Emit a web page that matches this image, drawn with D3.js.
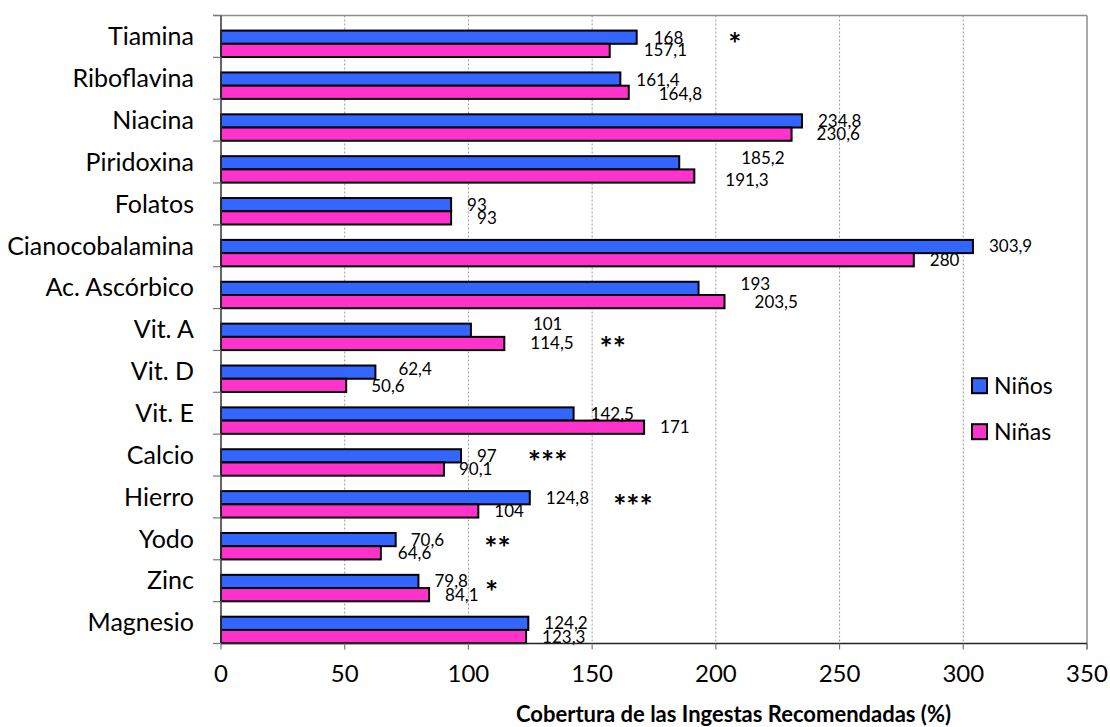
<!DOCTYPE html>
<html><head><meta charset="utf-8">
<script src="https://cdn.jsdelivr.net/npm/d3@7"></script>
<style>body{margin:0;background:#fff}text{font-family:Lato,"Open Sans",sans-serif}</style>
</head><body><svg id="c" width="1110" height="727"></svg>
<script>
// ---- data ----
const categories = ["Tiamina","Riboflavina","Niacina","Piridoxina","Folatos","Cianocobalamina","Ac. Ascórbico","Vit. A","Vit. D","Vit. E","Calcio","Hierro","Yodo","Zinc","Magnesio"];
const ninos = [168,161.4,234.8,185.2,93,303.9,193,101,62.4,142.5,97,124.8,70.6,79.8,124.2];
const ninas = [157.1,164.8,230.6,191.3,93,280,203.5,114.5,50.6,171,90.1,104,64.6,84.1,123.3];
const significance = ["*","","","","","","","**","","","***","***","**","*",""];
const xTicks = [0,50,100,150,200,250,300,350];
const seriesNames = ["Niños","Niñas"];
const axisTitle = "Cobertura de las Ingestas Recomendadas (%)";

// ---- layout (label nudges, px; star anchor in axis units) ----
const labelDxNinos = [17,16,16,62,16,16,42,62,23,17,16,16,15,16,16];
const labelDyNinos = [1,1,0,-5,0,0,-4,-6,-3,0,0,0,0,0,0];
const labelDxNinas = [34,30,25,31,26,16,30,26,25,16,15,16,17,16,16];
const labelDyNinas = [0,2,0,4,0,0,0,0,1,0,0,0,0,0,0];
const sigAt = [205,0,0,0,0,0,0,153,0,0,124,158.5,106.4,106.7,0];
const sigDy = [-6,0,0,0,0,0,0,5,0,0,-7,-5,-5,-2,0];

const colors = ["#3366FF","#FF33CC"];
const pL = 221, pR = 1087, pT = 15.5, pB = 643.5;

const svg = d3.select("#c");
const x = d3.scaleLinear().domain([0,350]).range([pL,pR]);
const y = d3.scaleBand().domain(categories).range([pT,pB]).padding(0);
const bw = y.bandwidth();
const barOff = bw*0.36, barH = bw*0.316;

// gridlines
svg.append("g").selectAll("line").data(xTicks.filter(t=>t>0&&t<350)).join("line")
  .attr("x1",d=>x(d)).attr("x2",d=>x(d)).attr("y1",pT).attr("y2",pB)
  .attr("stroke","#9a9a9a").attr("stroke-width",1).attr("stroke-dasharray","2,2");

// top and right frame
svg.append("line").attr("x1",pL-8).attr("x2",pR).attr("y1",pT).attr("y2",pT).attr("stroke","#8c8c8c").attr("stroke-width",1.5);
svg.append("line").attr("x1",pR).attr("x2",pR).attr("y1",pT).attr("y2",pB+6).attr("stroke","#8c8c8c").attr("stroke-width",1.5);

// bars
const g = svg.append("g");
g.selectAll("rect.b").data(categories).join("rect").attr("class","b")
  .attr("x",x(0)).attr("y",d=>y(d)+barOff)
  .attr("width",(d,i)=>x(ninos[i])-x(0)).attr("height",barH)
  .attr("fill",colors[0]).attr("stroke","#000").attr("stroke-width",2);
g.selectAll("rect.g").data(categories).join("rect").attr("class","g")
  .attr("x",x(0)).attr("y",d=>y(d)+barOff+barH)
  .attr("width",(d,i)=>x(ninas[i])-x(0)).attr("height",barH)
  .attr("fill",colors[1]).attr("stroke","#000").attr("stroke-width",2);

// axes
const yAxis = svg.append("g");
yAxis.append("line").attr("x1",pL).attr("x2",pL).attr("y1",pT).attr("y2",pB).attr("stroke","#333").attr("stroke-width",1.5);
const bounds = categories.map(c=>y(c)).concat([pB]);
yAxis.selectAll("line.t").data(bounds).join("line").attr("class","t")
  .attr("x1",pL-8).attr("x2",pL).attr("y1",d=>d).attr("y2",d=>d).attr("stroke","#777").attr("stroke-width",1.2);
yAxis.selectAll("text").data(categories).join("text")
  .attr("x",194).attr("y",d=>y(d)+bw/2).attr("dy","0.35em").attr("text-anchor","end")
  .attr("font-size",25).attr("fill","#000").text(d=>d);

const xAxis = svg.append("g");
xAxis.append("line").attr("x1",pL).attr("x2",pR).attr("y1",pB).attr("y2",pB).attr("stroke","#222").attr("stroke-width",1.5);
xAxis.selectAll("line.t").data(xTicks).join("line").attr("class","t")
  .attr("x1",d=>x(d)).attr("x2",d=>x(d)).attr("y1",pB).attr("y2",pB+6).attr("stroke","#777").attr("stroke-width",1.2);
xAxis.selectAll("text").data(xTicks).join("text")
  .attr("x",d=>x(d)).attr("y",674).attr("dy","0.35em").attr("text-anchor","middle")
  .attr("font-size",24).attr("fill","#000").text(d=>d);
svg.append("text").attr("x",516).attr("y",714).attr("dy","0.35em")
  .attr("font-size",22).attr("font-weight","bold").attr("fill","#000").text(axisTitle);

// value labels
const fmt = v => String(v).replace(".",",");
g.selectAll("text.vb").data(categories).join("text").attr("class","vb")
  .attr("x",(d,i)=>x(ninos[i])+labelDxNinos[i]).attr("y",(d,i)=>y(d)+barOff+barH/2+labelDyNinos[i])
  .attr("dy","0.35em").attr("font-size",17).attr("fill","#000").text((d,i)=>fmt(ninos[i]));
g.selectAll("text.vg").data(categories).join("text").attr("class","vg")
  .attr("x",(d,i)=>x(ninas[i])+labelDxNinas[i]).attr("y",(d,i)=>y(d)+barOff+barH*1.5+labelDyNinas[i])
  .attr("dy","0.35em").attr("font-size",17).attr("fill","#000").text((d,i)=>fmt(ninas[i]));

// significance stars (glyph centre placed near the boundary between the two bars)
const starSize = 31;
g.selectAll("text.s").data(categories.map((c,i)=>({c,i})).filter(o=>significance[o.i])).join("text").attr("class","s")
  .attr("x",o=>x(sigAt[o.i])).attr("y",o=>y(o.c)+barOff+barH+sigDy[o.i]+starSize*0.56)
  .attr("font-size",starSize).attr("font-weight","bold").attr("fill","#000").text(o=>significance[o.i]);

// legend
const lg = svg.append("g");
seriesNames.forEach((n,i)=>{
  const cy = 385.7 + i*46;
  lg.append("rect").attr("x",972).attr("y",cy-7.5).attr("width",15).attr("height",15)
    .attr("fill",colors[i]).attr("stroke","#000").attr("stroke-width",2);
  lg.append("text").attr("x",994).attr("y",cy).attr("dy","0.35em").attr("font-size",23).attr("fill","#000").text(n);
});
</script></body></html>
